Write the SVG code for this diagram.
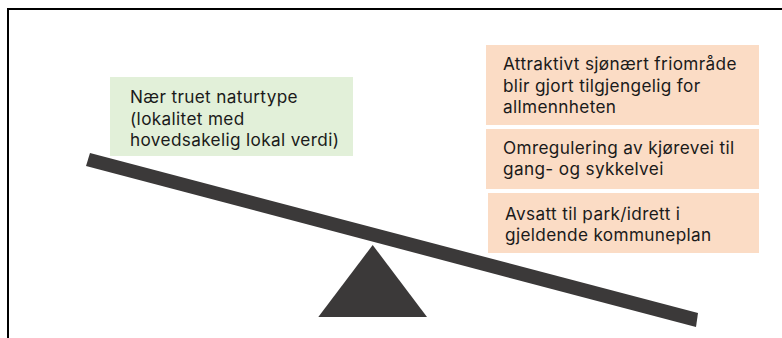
<svg xmlns="http://www.w3.org/2000/svg" width="782" height="338" viewBox="0 0 782 338">
<style>
.t{font-family:Inter,"Open Sans","Liberation Sans",sans-serif;font-size:17.2px;letter-spacing:0.35px;fill:#1a1a1a}
.g{fill:#e2f0d9}
.o{fill:#fbdcc5}
.d{fill:#3b3939}
</style>
<rect x="0" y="0" width="782" height="338" fill="#ffffff"/>
<path d="M8,340 V9 H784" fill="none" stroke="#000" stroke-width="2"/>
<g id="beam"><polygon class="d" points="90,153 698,313 696,327 86,166"/></g>
<g id="fulcrum"><polygon class="d" points="372.7,245 427,317 318.3,317"/></g>
<g id="green">
<rect class="g" x="110" y="77" width="243" height="79"/>
<text class="t" x="130" y="103">Nær truet naturtype<tspan x="130" dy="21.5">(lokalitet med</tspan><tspan x="130" dy="21.5">hovedsakelig lokal verdi)</tspan></text>
</g>
<g id="box1">
<rect class="o" x="486" y="45" width="273" height="80"/>
<text class="t" x="503" y="70">Attraktivt sjønært friområde<tspan x="503" dy="21.5">blir gjort tilgjengelig for</tspan><tspan x="503" dy="21.5">allmennheten</tspan></text>
</g>
<g id="box2">
<rect class="o" x="486" y="129" width="273" height="60"/>
<text class="t" x="503" y="154">Omregulering av kjørevei til<tspan x="503" dy="21">gang- og sykkelvei</tspan></text>
</g>
<g id="box3">
<rect class="o" x="488" y="193" width="271" height="60"/>
<text class="t" x="505" y="220">Avsatt til park/idrett i<tspan x="505" dy="21">gjeldende kommuneplan</tspan></text>
</g>
<g id="connectors"></g>
</svg>
